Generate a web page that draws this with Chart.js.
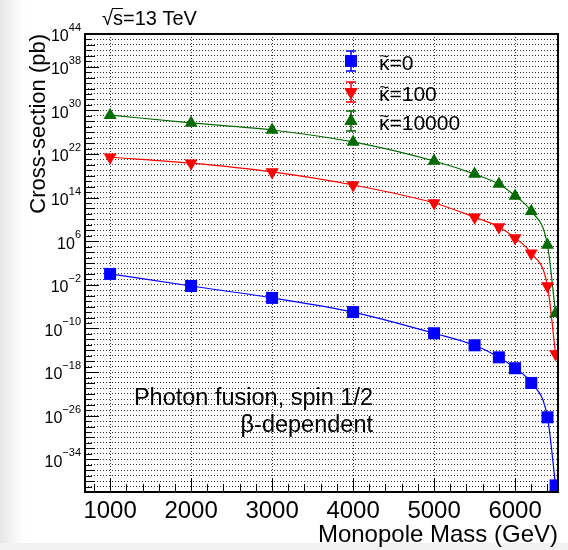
<!DOCTYPE html>
<html lang="en">
<head>
    <meta charset="UTF-8">
    <title>Monopole cross-section</title>
    <script src="https://cdn.jsdelivr.net/npm/chart.js@4.4.0/dist/chart.umd.min.js"></script>
    <style>
        body { margin: 0; background: #fff; }
        #wrap { position: relative; width: 568px; height: 550px; }
        #shadeLeft { position: absolute; left: 0; top: 0; width: 26px; height: 550px;
            background: linear-gradient(to right, #e6e6e6, #fafafa 70%, #fff); }
        #shadeBottom { position: absolute; left: 0; bottom: 0; width: 568px; height: 7px; background: #f2f2f2; }
        canvas { position: absolute; left: 0; top: 0; }
    </style>
</head>
<body>
<div id="wrap">
    <div id="shadeLeft"></div>
    <div id="shadeBottom"></div>
    <canvas id="myChart" width="568" height="550"></canvas>
</div>
<script>
    // monopole masses (GeV)
    var massGeV = [1000, 2000, 3000, 4000, 5000, 5500, 5800, 6000, 6200, 6400, 6500];
    // cross-sections (pb)
    var xsKappa0 = [1e0, 6e-3, 4e-5, 1e-7, 1.3e-11, 8e-14, 5e-16, 5e-18, 1e-20, 5e-27, 1.6e-39];
    var xsKappa100 = [2.5e21, 2e20, 5e18, 2e16, 1e13, 2.5e10, 4e8, 4e6, 6e3, 6e-3, 2e-15];
    var xsKappa10000 = [1.3e29, 5e27, 2.5e26, 1.6e24, 5e20, 2e18, 3e16, 2e14, 3e11, 2e5, 6e-8];
    var kappaValues = ['0', '100', '10000'];
    var xTickValues = [1000, 2000, 3000, 4000, 5000, 6000];
    var yLabelExps = [44, 38, 30, 22, 14, 6, -2, -10, -18, -26, -34];

    function toPoints(ys) {
        return massGeV.map(function (m, i) { return {x: m, y: ys[i]}; });
    }

    var colors = ['#0000ff', '#ff0000', '#006b00'];
    var styles = ['rect', 'triangle', 'triangle'];
    var rotations = [0, 180, 0];
    var radii = [8.5, 7.5, 7.5];
    var allSeries = [xsKappa0, xsKappa100, xsKappa10000];

    var datasets = allSeries.map(function (ys, i) {
        return {
            label: '\u03BA\u0303=' + kappaValues[i],
            data: toPoints(ys),
            borderColor: colors[i],
            backgroundColor: colors[i],
            borderWidth: 1.2,
            pointStyle: styles[i],
            pointRotation: rotations[i],
            pointRadius: radii[i],
            pointBorderWidth: 0,
            pointBackgroundColor: colors[i],
            cubicInterpolationMode: 'monotone'
        };
    });

    var font = 'Liberation Sans, Arial, Helvetica, sans-serif';

    // frame, inside ticks, y labels, legend and texts drawn like the ROOT canvas
    var decor = {
        id: 'decor',
        afterDraw: function (chart) {
            var ctx = chart.ctx;
            var a = chart.chartArea;
            var xs = chart.scales.x;
            var ys = chart.scales.y;
            ctx.save();
            ctx.strokeStyle = '#000';
            ctx.lineWidth = 1;
            ctx.beginPath();
            for (var m = 800; m <= 6400; m += 200) {
                var px = Math.round(xs.getPixelForValue(m)) + 0.5;
                var len = (m % 1000 === 0) ? 14 : 8;
                ctx.moveTo(px, a.bottom);
                ctx.lineTo(px, a.bottom - len);
            }
            for (var e = -39; e <= 44; e++) {
                var py = Math.round(ys.getPixelForValue(Math.pow(10, e))) + 0.5;
                var l = (yLabelExps.indexOf(e) >= 0) ? 14 : (e % 2 === 0 ? 10 : 7);
                ctx.moveTo(a.left, py);
                ctx.lineTo(a.left + l, py);
            }
            ctx.stroke();
            ctx.lineWidth = 2;
            ctx.strokeRect(a.left, a.top, a.right - a.left, a.bottom - a.top);

            // y labels 10^n
            ctx.fillStyle = '#000';
            ctx.textAlign = 'right';
            ctx.textBaseline = 'middle';
            yLabelExps.forEach(function (n) {
                var y = ys.getPixelForValue(Math.pow(10, n));
                var ex = String(n).replace('-', '\u2212');
                ctx.font = '11px ' + font;
                var w = ctx.measureText(ex).width;
                ctx.fillText(ex, 81, y - 6);
                ctx.font = '16px ' + font;
                ctx.fillText('10', 81 - w, y + 3);
            });

            // legend
            var lx = 351;
            var lys = [61, 92, 121];
            for (var i = 0; i < 3; i++) {
                ctx.strokeStyle = colors[i];
                ctx.lineWidth = 1.5;
                ctx.beginPath();
                ctx.moveTo(lx, lys[i] - 10);
                ctx.lineTo(lx, lys[i] + 10);
                ctx.moveTo(lx - 5, lys[i] - 10);
                ctx.lineTo(lx + 5, lys[i] - 10);
                ctx.moveTo(lx - 5, lys[i] + 10);
                ctx.lineTo(lx + 5, lys[i] + 10);
                ctx.stroke();
                ctx.fillStyle = colors[i];
                Chart.helpers.drawPoint(ctx, {pointStyle: styles[i], rotation: rotations[i], radius: radii[i], borderWidth: 0}, lx, lys[i]);
                ctx.fill();
                ctx.fillStyle = '#000';
                ctx.textAlign = 'left';
                ctx.textBaseline = 'alphabetic';
                ctx.font = '21px ' + font;
                var kw = ctx.measureText('\u03BA').width;
                ctx.fillText('\u03BA', 379, lys[i] + 9);
                ctx.fillText('=' + kappaValues[i], 379 + kw, lys[i] + 9);
                ctx.font = '17px ' + font;
                ctx.textAlign = 'center';
                ctx.fillText('~', 379 + kw / 2, lys[i] + 1);
            }

            ctx.fillStyle = '#000';
            ctx.textBaseline = 'alphabetic';
            ctx.font = '20px ' + font;
            ctx.textAlign = 'left';
            ctx.fillText('\u221As=13 TeV', 102, 25);
            var rw = ctx.measureText('\u221A').width;
            var sw = ctx.measureText('s').width;
            ctx.strokeStyle = '#000';
            ctx.lineWidth = 1;
            ctx.beginPath();
            ctx.moveTo(102 + rw - 1, 8.5);
            ctx.lineTo(102 + rw + sw, 8.5);
            ctx.stroke();

            ctx.font = '23.5px ' + font;
            ctx.textAlign = 'right';
            ctx.fillText('Photon fusion, spin 1/2', 373, 405);
            ctx.fillText('\u03B2-dependent', 373, 432);
            ctx.restore();
        }
    };

    var ctx = document.getElementById('myChart').getContext('2d');
    var chart = new Chart(ctx, {
        type: 'line',
        data: {datasets: datasets},
        options: {
            responsive: false,
            animation: false,
            layout: {padding: {top: 34, right: 10, left: 0, bottom: 0}},
            plugins: {legend: {display: false}, tooltip: {enabled: false}},
            scales: {
                x: {
                    type: 'linear',
                    min: 690,
                    max: 6530,
                    afterBuildTicks: function (scale) {
                        scale.ticks = xTickValues.map(function (v) { return {value: v}; });
                    },
                    afterFit: function (scale) { scale.height = 58; },
                    grid: {color: '#333', drawTicks: false},
                    border: {display: false, dash: [1, 2]},
                    ticks: {
                        color: '#000',
                        padding: 5,
                        maxRotation: 0,
                        autoSkip: false,
                        font: {family: font, size: 24},
                        callback: function (v) { return String(v); }
                    },
                    title: {
                        display: true,
                        text: 'Monopole Mass (GeV)',
                        align: 'end',
                        color: '#000',
                        padding: {top: 0, bottom: 0},
                        font: {family: font, size: 24}
                    }
                },
                y: {
                    type: 'logarithmic',
                    min: 1e-40,
                    max: 1e44,
                    afterBuildTicks: function (scale) {
                        var t = [];
                        for (var e = 44; e >= -40; e--) t.push({value: Math.pow(10, e)});
                        scale.ticks = t;
                    },
                    afterFit: function (scale) { scale.width = 85; },
                    grid: {color: '#333', drawTicks: false},
                    border: {display: false, dash: [1, 2]},
                    ticks: {
                        color: '#000',
                        autoSkip: false,
                        font: {family: font, size: 16},
                        callback: function () { return ''; }
                    },
                    title: {
                        display: true,
                        text: 'Cross-section (pb)',
                        align: 'end',
                        color: '#000',
                        padding: {top: 26, bottom: 0},
                        font: {family: font, size: 22}
                    }
                }
            }
        },
        plugins: [decor]
    });
</script>
</body>
</html>
